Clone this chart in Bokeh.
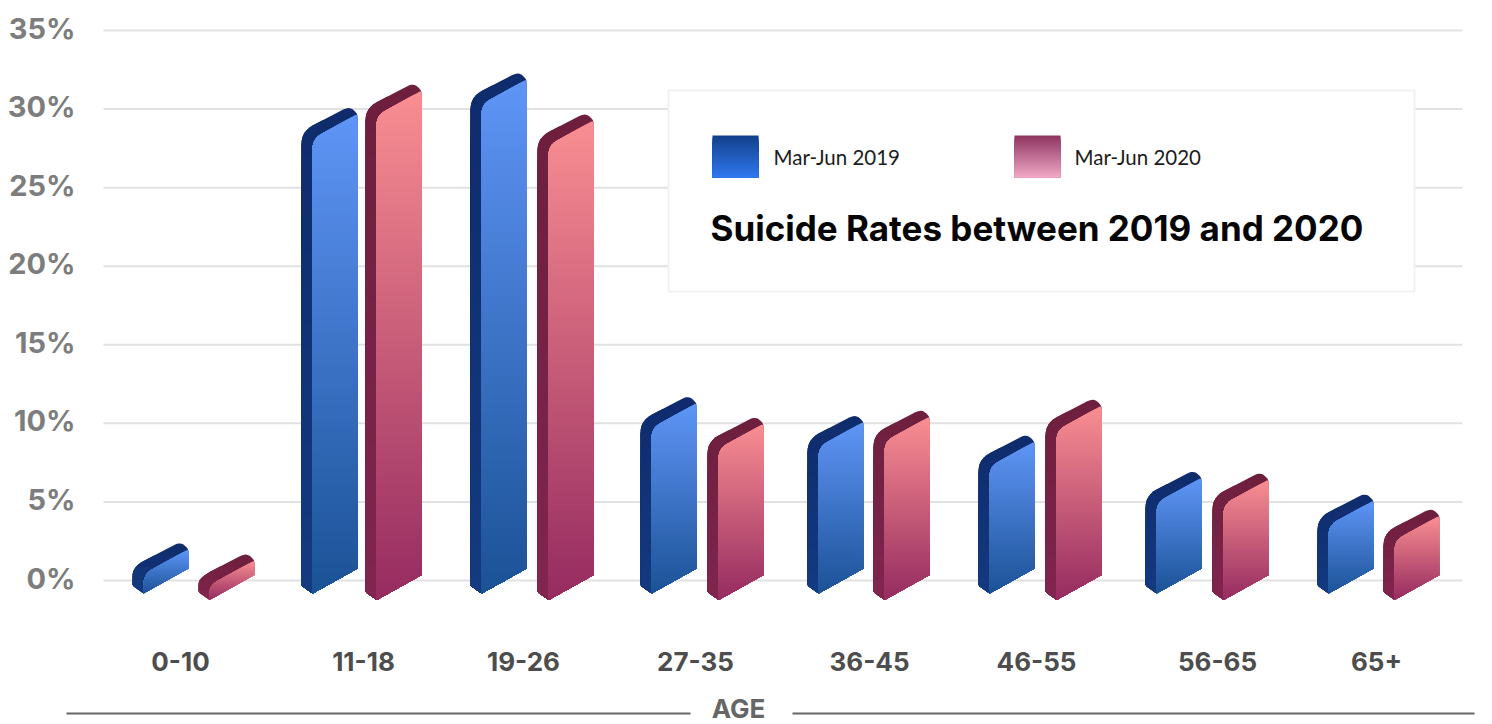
from bokeh.core.properties import value
from bokeh.embed import file_html
from bokeh.models import FixedTicker, LinearAxis, Range1d
from bokeh.plotting import figure
from bokeh.resources import INLINE

# Chart data
age_groups = ["0-10", "11-18", "19-26", "27-35", "36-45", "46-55", "56-65", "65+"]
rates_2019 = [1.2, 28.9, 31.1, 10.5, 9.3, 8.05, 5.75, 4.3]
rates_2020 = [0.9, 30.8, 28.9, 9.6, 10.05, 10.75, 6.05, 3.75]
percent_ticks = [0, 5, 10, 15, 20, 25, 30, 35]
series_names = ["Mar-Jun 2019", "Mar-Jun 2020"]
chart_title = "Suicide Rates between 2019 and 2020"
axis_title = "AGE"

# Layout, on a horizontal scale of one unit per pixel
W, H = 1492, 724
PX = 15.714  # pixels per percentage point
Y0_PX = 580  # height of the 0% line, from the top of the page
label_x = [180, 363, 523, 695, 869, 1036, 1217, 1376]
left_2019 = [132, 301, 470, 640, 807, 978, 1145, 1317]
left_2020 = [198, 365, 537, 707, 873, 1045, 1212, 1383]


def py(pixel_y):
    """Percent value at a page height."""
    return (Y0_PX - pixel_y) / PX


p = figure(
    width=W, height=H, output_backend="svg", toolbar_location=None,
    x_range=Range1d(0, W), y_range=Range1d(py(H), py(0)),
    y_axis_location=None,
    min_border=0, outline_line_color=None, background_fill_color="white",
    border_fill_color="white",
)

# The percent labels sit slightly above their rules, so their axis has its own range
p.extra_y_ranges["labels"] = Range1d(py(H) - 2.5 / PX, py(0) - 2.5 / PX)
percent_axis = LinearAxis(
    y_range_name="labels",
    ticker=FixedTicker(ticks=percent_ticks),
    major_label_overrides={t: f"{t}%" for t in percent_ticks},
    major_label_standoff=-81,
    major_label_text_font="Inter",
    major_label_text_font_style="bold",
    major_label_text_font_size="29px",
    major_label_text_color="#7d7d7d",
    axis_line_color=None,
    major_tick_line_color=None,
    minor_tick_line_color=None,
)
p.add_layout(percent_axis, "left")

p.xaxis.ticker = FixedTicker(ticks=label_x)
p.xaxis.major_label_overrides = dict(zip(label_x, age_groups))
p.xaxis.major_label_standoff = -79
p.xaxis.major_label_text_font = "Inter"
p.xaxis.major_label_text_font_style = "bold"
p.xaxis.major_label_text_font_size = "26px"
p.xaxis.major_label_text_color = "#4d4d4d"
p.xaxis.axis_line_color = None
p.xaxis.major_tick_line_color = None
p.xaxis.minor_tick_line_color = None

p.grid.visible = False

# Horizontal rules stop short of the page edges
p.segment(x0=[103] * len(percent_ticks), x1=[1462] * len(percent_ticks),
          y0=percent_ticks, y1=percent_ticks, line_color="#e1e1e1", line_width=2)


def mix(c0, c1, t):
    a = [int(c0[i:i + 2], 16) for i in (1, 3, 5)]
    b = [int(c1[i:i + 2], 16) for i in (1, 3, 5)]
    return "#%02x%02x%02x" % tuple(round(u + (v - u) * t) for u, v in zip(a, b))


def clip_below(points, limit):
    """Cut a polygon down to the part with y <= limit."""
    out = []
    for i, a in enumerate(points):
        b = points[(i + 1) % len(points)]
        if a[1] <= limit:
            out.append(a)
        if (a[1] <= limit) != (b[1] <= limit):
            f = (limit - a[1]) / (b[1] - a[1])
            out.append((a[0] + (b[0] - a[0]) * f, limit))
    return out


def gradient_fill(points, top_color, bottom_color, step=2.5):
    """Paint a vertical gradient: each layer repaints everything below its upper edge."""
    ys = [q[1] for q in points]
    low, high = min(ys), max(ys)
    band = step / PX
    xs_all, ys_all, colors = [], [], []
    y = high
    while y > low:
        piece = clip_below(points, y)
        if len(piece) > 2:
            xs_all.append([q[0] for q in piece])
            ys_all.append([q[1] for q in piece])
            colors.append(mix(bottom_color, top_color, (y - band / 2 - low) / (high - low)))
        y -= band
    p.patches(xs_all, ys_all, fill_color=colors, line_color=None)


def rounded(points, radii):
    """Round polygon corners with short quadratic curves."""
    out = []
    n = len(points)
    for i, (x, y) in enumerate(points):
        r = radii[i]
        if r == 0:
            out.append((x, y))
            continue
        ax, ay = points[i - 1]
        bx, by = points[(i + 1) % n]

        def toward(tx, ty):
            dx, dy = tx - x, (ty - y) * PX
            d = (dx * dx + dy * dy) ** 0.5
            s = min(r, d / 2) / d
            return x + dx * s, y + dy * s / PX

        s0, s1 = toward(ax, ay), toward(bx, by)
        for k in range(7):
            t = k / 6
            out.append((
                (1 - t) ** 2 * s0[0] + 2 * t * (1 - t) * x + t * t * s1[0],
                (1 - t) ** 2 * s0[1] + 2 * t * (1 - t) * y + t * t * s1[1],
            ))
    return out


def bar(left, rate, baseline, face_top, face_bottom, side_top, side_bottom):
    """One slab: a dark silhouette with the lit front face on top of it."""
    u = 1 / PX
    top = baseline + rate
    right = left + 56
    front = left + 11
    shell = rounded(
        [
            (left, baseline - 5 * u), (front, baseline - 13 * u), (right, baseline + 12 * u),
            (right, top + 12.5 * u), (right - 8, top + 20 * u), (left, top - 5 * u),
        ],
        [2, 2, 0, 3, 7, 13],
    )
    face = rounded(
        [
            (front, baseline - 13 * u), (right, baseline + 12 * u),
            (right, top + 12.5 * u), (front, top - 12.5 * u),
        ],
        [0, 0, 3, 10],
    )
    gradient_fill(shell, side_top, side_bottom, step=12)
    gradient_fill(face, face_top, face_bottom)


for left, rate in zip(left_2019, rates_2019):
    bar(left, rate, 0.0, "#5f95f6", "#1b5296", "#0f2b6c", "#143a80")
for left, rate in zip(left_2020, rates_2020):
    bar(left, rate, -6.5 / PX, "#f98e92", "#952b60", "#6d1f3d", "#80254f")

# Legend panel
p.quad(left=[668], right=[1414], top=[py(90)], bottom=[py(291)],
       fill_color="white", line_color="#f1f1f1", line_width=2)


def swatch(x0, x1, y0, y1, top_color, bottom_color):
    gradient_fill([(x0, py(y1)), (x1, py(y1)), (x1, py(y0)), (x0, py(y0))],
                  top_color, bottom_color, step=2)


swatch(712, 758, 135, 177, "#123f8a", "#2f78ef")
swatch(1014, 1060, 135, 177, "#8d3460", "#f1a8c5")

p.text(x=[773, 1074], y=[py(156), py(156)], text=series_names,
       text_font=value("Lato"), text_font_size="20.5px", text_color="#1c1c1c",
       text_baseline="middle", text_align="left")
p.text(x=[710], y=[py(227.5)], text=[chart_title],
       text_font=value("Inter"), text_font_style="bold", text_font_size="35px",
       text_color="#050505", text_baseline="middle", text_align="left")

# Axis title flanked by rules
p.text(x=[738], y=[py(708)], text=[axis_title],
       text_font=value("Inter"), text_font_style="bold", text_font_size="26px",
       text_color="#666666", text_baseline="middle", text_align="center")
p.segment(x0=[66, 792], x1=[690, 1474], y0=[py(713)] * 2, y1=[py(713)] * 2,
          line_color="#666666", line_width=2)

open("out.html", "w").write(file_html(p, INLINE))
